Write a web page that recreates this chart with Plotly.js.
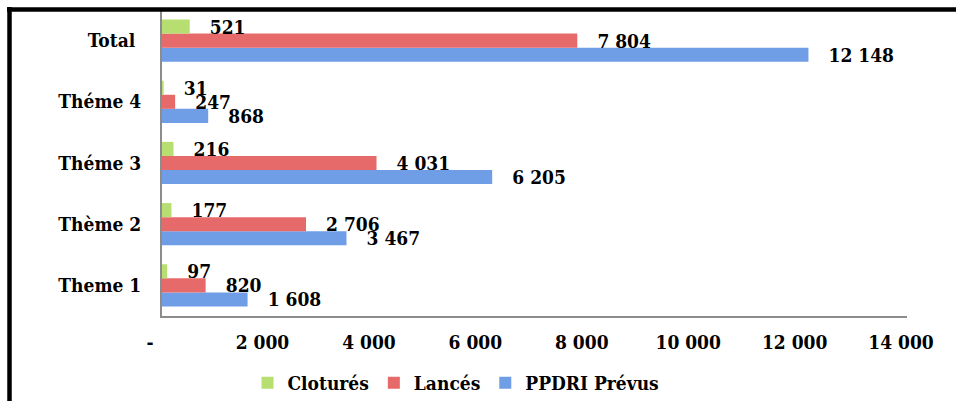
<!DOCTYPE html>
<html>
<head>
<meta charset="utf-8">
<script src="https://cdn.plot.ly/plotly-3.0.1.min.js"></script>
<style>
  html, body { margin: 0; padding: 0; background: #ffffff; }
  #chart { width: 956px; height: 401px; }
</style>
</head>
<body>
<div id="chart"></div>
<script>
// Categories bottom to top
const categories = ['Theme 1', 'Thème 2', 'Théme 3', 'Théme 4', 'Total\u00a0'];
const cloturesValues = [97, 177, 216, 31, 521];
const lancesValues = [820, 2706, 4031, 247, 7804];
const prevusValues = [1608, 3467, 6205, 868, 12148];
const seriesNames = ['Cloturés', 'Lancés', 'PPDRI Prévus'];
const tickValues = [0, 2000, 4000, 6000, 8000, 10000, 12000, 14000];
const tickLabels = ['-\u00a0\u00a0\u00a0\u00a0', '2 000\u00a0\u00a0', '4 000\u00a0\u00a0', '6 000\u00a0\u00a0', '8 000\u00a0\u00a0', '10 000\u00a0\u00a0', '12 000\u00a0\u00a0', '14 000\u00a0\u00a0'];

const FONT = 'DejaVu Serif Condensed, DejaVu Serif, serif';
const FS = 19;
const W = 956, H = 401;
const M = {l: 162, r: 49, t: 10, b: 85, autoexpand: false};
const PW = W - M.l - M.r, PH = H - M.t - M.b;
const px2x = p => (p - M.l) / PW;
const px2y = p => (H - M.b - p) / PH;

function barTrace(name, values, color) {
  return {
    type: 'bar',
    orientation: 'h',
    name: name,
    y: categories,
    x: values,
    marker: {color: color, line: {width: 0}},
    texttemplate: '\u2003%{x:,}',
    textposition: 'outside',
    constraintext: 'none',
    cliponaxis: false,
    textfont: {family: FONT, size: FS, color: '#000000', weight: 'bold'},
    hoverinfo: 'skip'
  };
}

const data = [
  barTrace(seriesNames[2], prevusValues, '#6f9de6'),
  barTrace(seriesNames[1], lancesValues, '#e76a6a'),
  barTrace(seriesNames[0], cloturesValues, '#b7de70')
];

const layout = {
  width: W, height: H,
  margin: M,
  paper_bgcolor: '#ffffff',
  plot_bgcolor: '#ffffff',
  separators: ', ',
  barmode: 'group',
  bargap: 0.31,
  bargroupgap: 0,
  font: {family: FONT, size: FS, color: '#000000', weight: 'bold'},
  xaxis: {
    range: [0, 14000],
    tickmode: 'array',
    tickvals: tickValues,
    ticktext: tickLabels,
    showgrid: false,
    zeroline: false,
    showline: true,
    linecolor: '#8c8c8c',
    linewidth: 2,
    ticks: '',
    ticklabelstandoff: 8,
    tickfont: {family: FONT, size: FS, color: '#000000', weight: 'bold'},
    fixedrange: true
  },
  yaxis: {
    type: 'category',
    showgrid: false,
    zeroline: false,
    showline: true,
    linecolor: '#8c8c8c',
    linewidth: 2,
    ticks: '',
    ticklabelstandoff: 15,
    tickfont: {family: FONT, size: FS, color: '#000000', weight: 'bold'},
    fixedrange: true
  },
  showlegend: true,
  legend: {
    orientation: 'h',
    traceorder: 'reversed',
    x: px2x(456), xanchor: 'center',
    y: px2y(383), yanchor: 'middle',
    itemwidth: 30,
    font: {family: FONT, size: FS, color: '#000000', weight: 'bold'},
    bgcolor: 'rgba(0,0,0,0)'
  },
  shapes: [
    {type: 'line', xref: 'paper', yref: 'paper', x0: px2x(7), x1: px2x(960), y0: px2y(9.5), y1: px2y(9.5), line: {color: '#000000', width: 4.5}},
    {type: 'line', xref: 'paper', yref: 'paper', x0: px2x(9.5), x1: px2x(9.5), y0: px2y(7), y1: px2y(405), line: {color: '#000000', width: 4.5}}
  ]
};

Plotly.newPlot('chart', data, layout, {displayModeBar: false, staticPlot: true});
</script>
</body>
</html>
